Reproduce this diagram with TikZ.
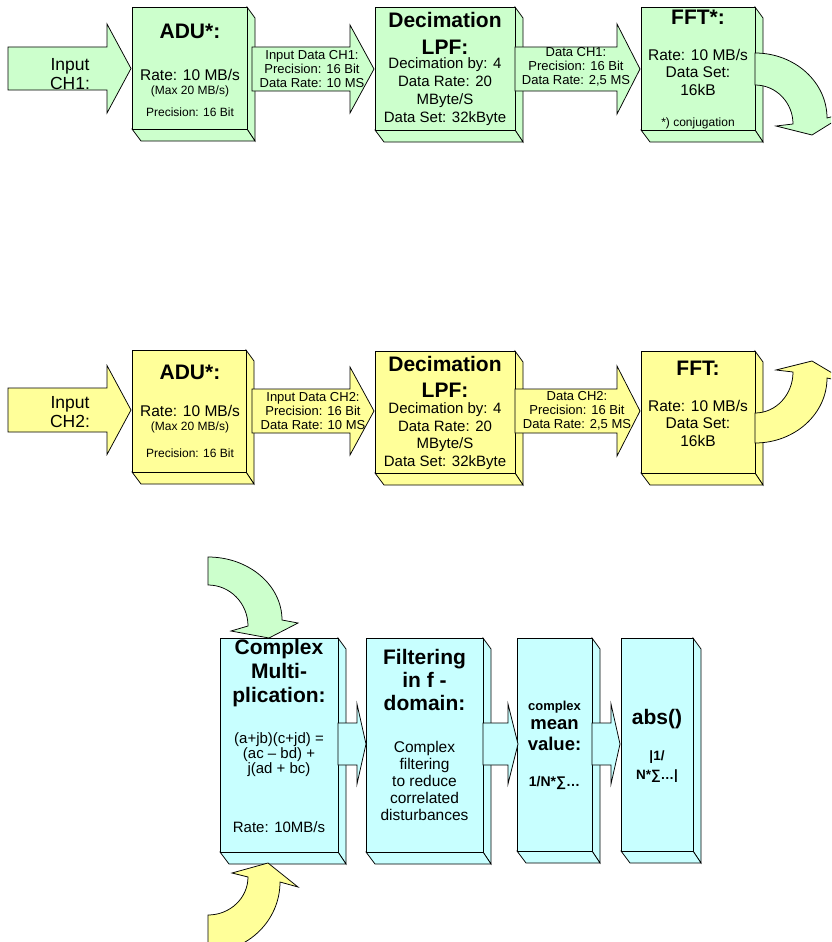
\documentclass[tikz,border=0pt]{standalone}
\usepackage{fontspec}
\setmainfont{Liberation Sans}

\definecolor{mint}{RGB}{204,255,204}
\definecolor{lemon}{RGB}{255,255,153}
\definecolor{aqua}{RGB}{200,255,255}

\tikzset{
  face/.style={draw=black,line width=.75pt,line join=miter},
  lbl/.style={anchor=center,inner sep=0pt,align=center},
  headline/.style={lbl,font=\bfseries\fontsize{21}{25}\selectfont},
  bodytxt/.style={lbl,font=\fontsize{15.5}{17.5}\selectfont},
  smalltxt/.style={lbl,font=\fontsize{12}{13}\selectfont},
  arrowtxt/.style={lbl,font=\fontsize{13}{14}\selectfont},
}

% front face, right face and bottom face of a block
\newcommand\blockbox[5]{%
  \draw[face,fill=#5] (#3,#2) -- ({#3+8},{#2+11}) -- ({#3+8},{#4+12}) -- (#3,#4) -- cycle;
  \draw[face,fill=#5] (#1,#4) -- ({#1+9},{#4+12}) -- ({#3+8},{#4+12}) -- (#3,#4) -- cycle;
  \draw[face,fill=#5] (#1,#2) rectangle (#3,#4);}
% flat block arrow: shaft start, head base, tip, centre y, half shaft, half head, colour
\newcommand\blockarrow[7]{%
  \draw[face,fill=#7] (#1,{#4-#5}) -- (#2,{#4-#5}) -- (#2,{#4-#6}) -- (#3,#4) -- (#2,{#4+#6}) -- (#2,{#4+#5}) -- (#1,{#4+#5}) -- cycle;}

\begin{document}
\begin{tikzpicture}[x=1pt,y=-1pt]
\path[use as bounding box] (0,0) rectangle (831,942);
\clip (0,0) rectangle (831,942);
\blockbox{132}{7}{247}{129}{mint}
\blockbox{375}{7}{515}{130}{mint}
\blockbox{641}{7}{755}{130}{mint}
\blockbox{132}{350}{246}{472}{lemon}
\blockbox{375}{351}{515}{473}{lemon}
\blockbox{641}{351}{755}{473}{lemon}
\blockbox{220}{638}{338}{852}{aqua}
\blockbox{366}{638}{483}{852}{aqua}
\blockbox{517}{638}{592}{851}{aqua}
\blockbox{621}{638}{693}{851}{aqua}
\blockarrow{8}{107}{131}{68.5}{21.5}{44.5}{mint}
\blockarrow{252}{350}{374}{69}{22}{44}{mint}
\blockarrow{515}{617}{640}{69}{22}{45}{mint}
\blockarrow{8}{107}{131}{410}{22}{44.5}{lemon}
\blockarrow{252}{350}{374}{411}{22}{44}{lemon}
\blockarrow{515}{617}{640}{411}{22}{45}{lemon}
\blockarrow{338}{357}{366}{744}{21}{40}{aqua}
\blockarrow{483}{508}{518}{744}{21}{40}{aqua}
\blockarrow{592}{611}{620}{744}{21}{40}{aqua}
\draw[face,fill=mint] (755,53) arc[start angle=-90,end angle=0,x radius=72,y radius=65] -- (849,112) -- (812,135) -- (776,126) -- (793,124) arc[start angle=0,end angle=-90,x radius=38,y radius=39] -- cycle;
\draw[face,fill=lemon] (755,443) arc[start angle=90,end angle=0,x radius=72,y radius=65] -- (849,383) -- (812,361) -- (776,370) -- (793,372) arc[start angle=0,end angle=90,x radius=38,y radius=41] -- cycle;
\draw[face,fill=mint] (208,557) arc[start angle=-90,end angle=0,x radius=74,y radius=63] -- (298,623) -- (269,638) -- (231,631) -- (248,626) arc[start angle=0,end angle=-90,x radius=40,y radius=41] -- cycle;
\draw[face,fill=lemon] (208,915) arc[start angle=90,end angle=0,x radius=40,y radius=38] -- (232,873) -- (268,863) -- (298,887) -- (280,882) arc[start angle=0,end angle=90,x radius=72,y radius=70] -- cycle;
\node[lbl,font=\fontsize{17.5}{19}\selectfont] (in1) at (70,74) {Input\\CH1:};
\node[headline] (adu1t) at (190,31) {ADU*:};
\node[bodytxt] (adu1r) at (190,75) {Rate: 10 MB/s};
\node[smalltxt] (adu1m) at (190,91) {(Max 20 MB/s)};
\node[smalltxt] (adu1p) at (190,112) {Precision: 16 Bit};
\node[arrowtxt] (adc1) at (312,69) {Input Data CH1:\\Precision: 16 Bit\\Data Rate: 10 MS};
\node[headline,font=\bfseries\fontsize{21}{27}\selectfont] (dec1t) at (445,33) {Decimation\\LPF:};
\node[bodytxt,font=\fontsize{15}{18}\selectfont] (dec1b) at (445,92) {Decimation by: 4\\Data Rate: 20\\MByte/S\\Data Set: 32kByte};
\node[arrowtxt] (dfft1) at (576,67) {Data CH1:\\Precision: 16 Bit\\Data Rate: 2,5 MS};
\node[headline] (fft1t) at (698,17) {FFT*:};
\node[bodytxt] (fft1b) at (698,72) {Rate: 10 MB/s\\Data Set:\\16kB};
\node[smalltxt] (fft1c) at (698,123) {*) conjugation};
\node[lbl,font=\fontsize{17.5}{19}\selectfont] (in2) at (70,412) {Input\\CH2:};
\node[headline] (adu2t) at (190,372) {ADU*:};
\node[bodytxt] (adu2r) at (190,411) {Rate: 10 MB/s};
\node[smalltxt] (adu2m) at (190,427) {(Max 20 MB/s)};
\node[smalltxt] (adu2p) at (190,453) {Precision: 16 Bit};
\node[arrowtxt] (adc2) at (313,411) {Input Data CH2:\\Precision: 16 Bit\\Data Rate: 10 MS};
\node[headline,font=\bfseries\fontsize{21}{26}\selectfont] (dec2t) at (445,377) {Decimation\\LPF:};
\node[bodytxt,font=\fontsize{15}{17.5}\selectfont] (dec2b) at (445,436) {Decimation by: 4\\Data Rate: 20\\MByte/S\\Data Set: 32kByte};
\node[arrowtxt] (dfft2) at (577,411) {Data CH2:\\Precision: 16 Bit\\Data Rate: 2,5 MS};
\node[headline] (fft2t) at (698,368) {FFT:};
\node[bodytxt] (fft2b) at (698,423) {Rate: 10 MB/s\\Data Set:\\16kB};
\node[headline,font=\bfseries\fontsize{21}{24}\selectfont] (mult) at (279,673) {Complex\\Multi-\\plication:};
\node[bodytxt,font=\fontsize{15}{15}\selectfont] (multb) at (279,755) {(a+jb)(c+jd) =\\(ac – bd) +\\j(ad + bc)};
\node[bodytxt,font=\fontsize{15}{16}\selectfont] (multr) at (279,827) {Rate: 10MB/s};
\node[headline,font=\bfseries\fontsize{21}{23}\selectfont] (filt) at (424.5,680) {Filtering\\in f -\\domain:};
\node[bodytxt,font=\fontsize{15.5}{17}\selectfont] (filtb) at (424.5,781) {Complex\\filtering\\to reduce\\correlated\\disturbances};
\node[lbl,font=\bfseries\fontsize{13}{14}\selectfont] (meanc) at (554.5,707) {complex};
\node[lbl,font=\bfseries\fontsize{18.5}{21}\selectfont] (meanv) at (554.5,735) {mean\\value:};
\node[lbl,font=\bfseries\fontsize{14}{15}\selectfont] (meanf) at (554.5,783) {1/N*∑…};
\node[headline] (abst) at (657,719) {abs()};
\node[lbl,font=\bfseries\fontsize{13.5}{19}\selectfont] (absf) at (657,767) {|1/\\N*∑…|};
\end{tikzpicture}
\end{document}
